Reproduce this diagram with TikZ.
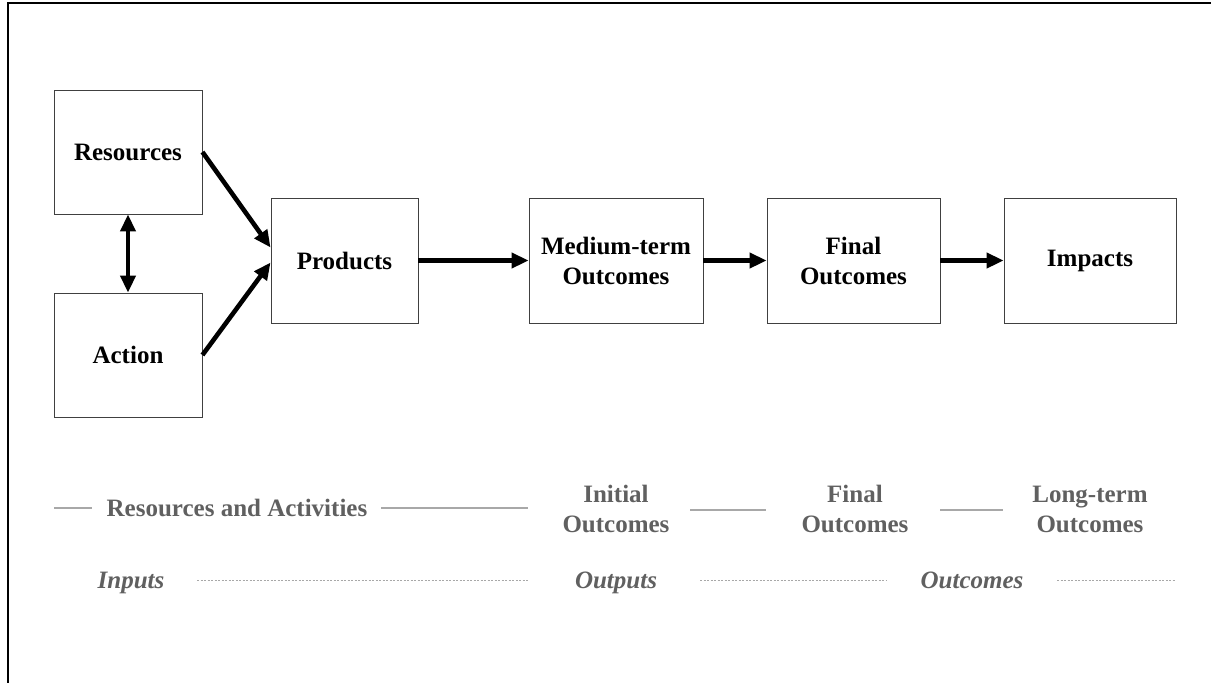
\documentclass[tikz,border=0pt]{standalone}
\usepackage{fontspec}
\setmainfont{Liberation Serif}
\usetikzlibrary{arrows.meta}
\definecolor{labgray}{HTML}{606060}
\definecolor{linegray}{HTML}{A8A8A8}
\begin{document}
\begin{tikzpicture}[x=1pt,y=-1pt,
  box/.style={draw=black!75,line width=0.9pt,minimum height=125pt,inner sep=0pt,align=center,
    font=\fontsize{25}{30}\selectfont\bfseries},
  flow/.style={line width=4.6pt,-{Triangle[length=17pt,width=15pt]}},
  lab/.style={text=labgray,align=center,inner sep=0pt,font=\fontsize{25}{30}\selectfont\bfseries},
  ital/.style={text=labgray,inner sep=0pt,anchor=base,font=\fontsize{25}{30}\selectfont\bfseries\itshape},
  solidline/.style={draw=linegray,line width=1.4pt},
  dotline/.style={draw=linegray,line width=1pt,dash pattern=on 2pt off 1.5pt}]
\useasboundingbox (0,0) rectangle (1211,683);
% frame
\coordinate (fb) at (8,683);
\coordinate (ftl) at (8,3);
\coordinate (fr) at (1211,3);
\draw[line width=2pt] (fb) -- (ftl) -- (fr);
% boxes
\node[box,minimum width=148pt,minimum height=124pt] (res) at (128,152) {Resources};
\node[box,minimum width=148pt,minimum height=124pt] (act) at (128,355) {Action};
\node[box,minimum width=147pt] (prod) at (344.5,260.5) {Products};
\node[box,minimum width=174pt] (med) at (616,260.5) {Medium-term\\Outcomes};
\node[box,minimum width=173pt] (fin) at (853.5,260.5) {Final\\Outcomes};
\node[box,minimum width=172pt] (imp) at (1090,260.5) {Impacts};
% arrows
\draw[flow] (res.east) -- ([yshift=13pt]prod.west);
\draw[flow] (act.east) -- ([yshift=-2pt]prod.west);
\draw[line width=4.6pt,{Triangle[length=17pt,width=15pt]}-{Triangle[length=17pt,width=15pt]}] (res.south) -- (act.north);
\draw[flow] (prod.east) -- (med.west);
\draw[flow] (med.east) -- (fin.west);
\draw[flow] (fin.east) -- (imp.west);
% bottom labels
\node[lab] (ra) at (237,508) {Resources and Activities};
\node[lab] (io) at (616,509) {Initial\\Outcomes};
\node[lab] (fo) at (855,509) {Final\\Outcomes};
\node[lab] (lo) at (1090,509) {Long-term\\Outcomes};
\coordinate (l1a) at (54,508); \coordinate (l1b) at (92,508);
\coordinate (l2a) at (381,508); \coordinate (l2b) at (528,508);
\coordinate (l3a) at (690,510); \coordinate (l3b) at (766,510);
\coordinate (l4a) at (940,510); \coordinate (l4b) at (1003,510);
\draw[solidline] (l1a) -- (l1b);
\draw[solidline] (l2a) -- (l2b);
\draw[solidline] (l3a) -- (l3b);
\draw[solidline] (l4a) -- (l4b);
% italic row
\node[ital] (inp) at (131,588) {Inputs};
\node[ital] (outp) at (616,588) {Outputs};
\node[ital] (outc) at (972,588) {Outcomes};
\coordinate (d1a) at (197,580); \coordinate (d1b) at (528,580);
\coordinate (d2a) at (700,580); \coordinate (d2b) at (886,580);
\coordinate (d3a) at (1057,580); \coordinate (d3b) at (1176,580);
\draw[dotline] (d1a) -- (d1b);
\draw[dotline] (d2a) -- (d2b);
\draw[dotline] (d3a) -- (d3b);
\end{tikzpicture}
\end{document}
